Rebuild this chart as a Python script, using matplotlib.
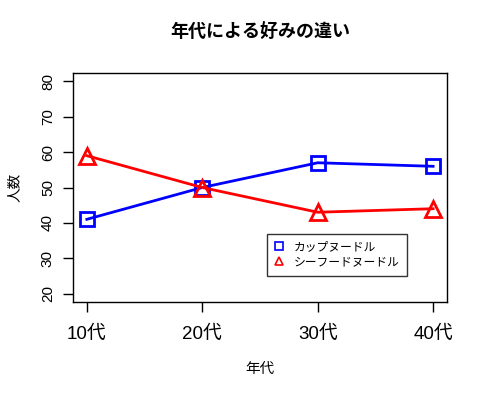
import matplotlib
matplotlib.use('Agg')
import matplotlib.pyplot as plt

plt.rcParams['font.family'] = ['Liberation Sans', 'Noto Sans CJK JP', 'DejaVu Sans']

# データ
nendai = ['10代', '20代', '30代', '40代']
cup_noodle = [41, 50, 57, 56]
seafood_noodle = [59, 50, 43, 44]
y_ticks = [20, 30, 40, 50, 60, 70, 80]

fig = plt.figure(figsize=(4.85, 3.94), dpi=100)
ax = fig.add_axes([0.1505, 0.2335, 0.7711, 0.5812])

x = list(range(1, len(nendai) + 1))
ax.plot(x, cup_noodle, color='blue', lw=2, marker='s', markersize=10,
        markerfacecolor='none', markeredgewidth=2, label='カップヌードル')
ax.plot(x, seafood_noodle, color='red', lw=2, marker='^', markersize=11,
        markerfacecolor='none', markeredgewidth=2, label='シーフードヌードル')

ax.set_xlim(0.88, 4.12)
ax.set_ylim(17.6, 82.4)
ax.set_xticks(x)
ax.set_xticklabels(nendai, fontsize=13.5)
ax.set_yticks(y_ticks)
ax.set_yticklabels([str(v) for v in y_ticks], fontsize=11, rotation=90, va='center')
ax.tick_params(direction='out', length=7, width=1, color='black')
ax.tick_params(axis='x', pad=10)
ax.tick_params(axis='y', pad=6)
for s in ax.spines.values():
    s.set_linewidth(1)

ax.set_title('年代による好みの違い', fontsize=13, fontweight='bold', pad=26)
ax.set_xlabel('年代', fontsize=10.5, labelpad=14)
ax.set_ylabel('人数', fontsize=10.5, labelpad=14)

leg = ax.legend(loc='upper left', bbox_to_anchor=(0.519, 0.297), borderaxespad=0,
                fancybox=False, edgecolor='black', fontsize=8.5, handlelength=0.8,
                markerscale=0.55, handletextpad=0.9, borderpad=0.6, labelspacing=0.3)
leg.get_frame().set_linewidth(1)
for h in leg.legend_handles:
    h.set_linestyle('none')
    h.set_markeredgewidth(1.2)

fig.savefig('out.png', dpi=100)
